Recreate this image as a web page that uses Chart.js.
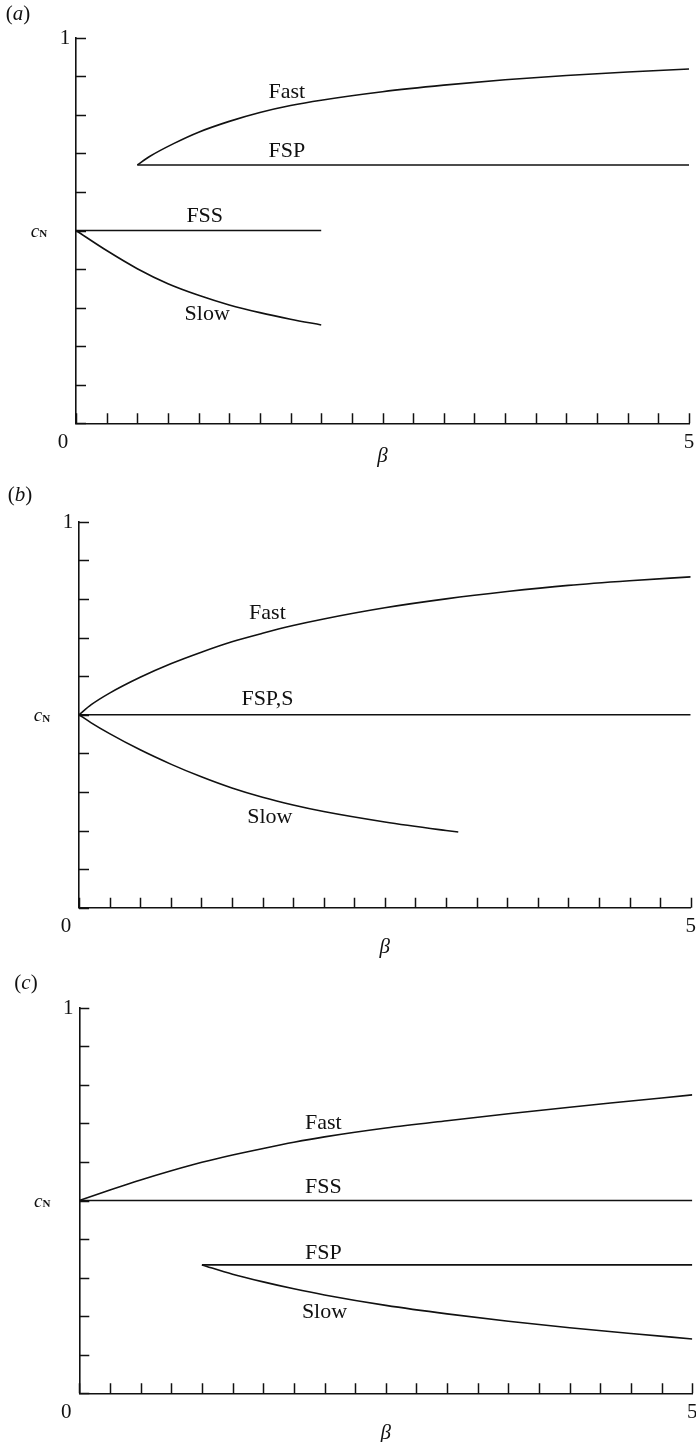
<!DOCTYPE html>
<html><head><meta charset="utf-8">
<script src="https://cdn.jsdelivr.net/npm/chart.js@4/dist/chart.umd.min.js"></script>
<style>
html,body{margin:0;padding:0;background:#fff;width:696px;height:1442px;overflow:hidden}
.p{position:absolute;left:0;width:696px}
canvas{display:block}
</style></head><body>
<div class="p" style="top:0"><canvas id="ca" width="696" height="480"></canvas></div>
<div class="p" style="top:480px"><canvas id="cb" width="696" height="480"></canvas></div>
<div class="p" style="top:960px"><canvas id="cc" width="696" height="482"></canvas></div>
<script>
// ---------- data ----------
const panelTitles = ['a', 'b', 'c'];
const xAxisTitle = 'β';
const xTickLabelValues = [5];       // labelled x ticks (0 drawn at origin)
const yTickLabelValues = [1];       // labelled y ticks
const yMarkedValue = 0.5;           // c_N level

// panel (a)
const aFastBeta = [0.5, 0.6, 0.8, 1.0, 1.25, 1.5, 1.75, 2.0, 2.5, 3.0, 3.5, 4.0, 4.5, 5.0];
const aFastC    = [0.670, 0.692, 0.726, 0.755, 0.783, 0.806, 0.824, 0.838, 0.860, 0.877, 0.891, 0.902, 0.911, 0.919];
const aFspBeta  = [0.5, 5.0];
const aFspC     = [0.670, 0.670];
const aFssBeta  = [0.0, 2.0];
const aFssC     = [0.5, 0.5];
const aSlowBeta = [0.0, 0.25, 0.5, 0.75, 1.0, 1.25, 1.5, 1.75, 2.0];
const aSlowC    = [0.5, 0.448, 0.401, 0.362, 0.332, 0.307, 0.287, 0.270, 0.255];
const aNames    = ['Fast', 'FSP', 'FSS', 'Slow'];

// panel (b)
const bFastBeta = [0.0, 0.1, 0.25, 0.5, 0.75, 1.0, 1.25, 1.5, 1.75, 2.0, 2.5, 3.0, 3.5, 4.0, 4.5, 5.0];
const bFastC    = [0.5, 0.526, 0.556, 0.597, 0.632, 0.662, 0.689, 0.711, 0.731, 0.748, 0.777, 0.800, 0.819, 0.835, 0.847, 0.857];
const bFspsBeta = [0.0, 5.0];
const bFspsC    = [0.5, 0.5];
const bSlowBeta = [0.0, 0.1, 0.25, 0.5, 0.75, 1.0, 1.25, 1.5, 1.75, 2.0, 2.5, 3.0, 3.1];
const bSlowC    = [0.5, 0.479, 0.451, 0.409, 0.372, 0.339, 0.310, 0.286, 0.266, 0.249, 0.222, 0.200, 0.196];
const bNames    = ['Fast', 'FSP,S', 'Slow'];

// panel (c)
const cFastBeta = [0.0, 0.25, 0.5, 0.75, 1.0, 1.25, 1.5, 1.75, 2.0, 2.5, 3.0, 3.5, 4.0, 4.5, 5.0];
const cFastC    = [0.5, 0.527, 0.553, 0.577, 0.599, 0.618, 0.635, 0.651, 0.665, 0.688, 0.707, 0.725, 0.742, 0.758, 0.774];
const cFssBeta  = [0.0, 5.0];
const cFssC     = [0.5, 0.5];
const cFspBeta  = [1.0, 5.0];
const cFspC     = [0.333, 0.333];
const cSlowBeta = [1.0, 1.25, 1.5, 1.75, 2.0, 2.5, 3.0, 3.5, 4.0, 4.5, 5.0];
const cSlowC    = [0.333, 0.309, 0.289, 0.271, 0.255, 0.228, 0.206, 0.187, 0.170, 0.155, 0.141];
const cNames    = ['Fast', 'FSS', 'FSP', 'Slow'];

// ---------- layout / style ----------
const SERIF = '"Liberation Serif", "DejaVu Serif", serif';
const INK = '#111';
const panels = [
  { id: 'ca', title: panelTitles[0], titlePos: [18, 14], left: 76, padTop: 37.7, padRight: 7, xH: 56.7, betaDy: 33,
    series: [[aFastBeta, aFastC], [aFspBeta, aFspC], [aFssBeta, aFssC], [aSlowBeta, aSlowC]],
    names: aNames, anchors: [[1.72, 0.859], [1.72, 0.706], [1.05, 0.538], [1.07, 0.284]] },
  { id: 'cb', title: panelTitles[1], titlePos: [20, 15], left: 79, padTop: 41.7, padRight: 5.3, xH: 52.3, betaDy: 40,
    series: [[bFastBeta, bFastC], [bFspsBeta, bFspsC], [bSlowBeta, bSlowC]],
    names: bNames, anchors: [[1.54, 0.763], [1.54, 0.541], [1.56, 0.235]] },
  { id: 'cc', title: panelTitles[2], titlePos: [26, 23], left: 79.3, padTop: 47.7, padRight: 3.7, xH: 48.7, betaDy: 40,
    series: [[cFastBeta, cFastC], [cFssBeta, cFssC], [cFspBeta, cFspC], [cSlowBeta, cSlowC]],
    names: cNames, anchors: [[1.99, 0.701], [1.99, 0.535], [1.99, 0.364], [2.0, 0.211]] }
];

function drawRuns(ctx, runs, cx, cy) {
  let w = 0;
  runs.forEach(r => { ctx.font = r.font; r.w = ctx.measureText(r.t).width; w += r.w; });
  let x = cx - w / 2;
  ctx.textAlign = 'left';
  ctx.textBaseline = 'middle';
  runs.forEach(r => { ctx.font = r.font; ctx.fillText(r.t, x, cy + (r.dy || 0)); x += r.w; });
}

const decor = {
  id: 'decor',
  afterDraw(chart, args, opts) {
    const p = opts.panel;
    const ctx = chart.ctx;
    const xs = chart.scales.x, ys = chart.scales.y;
    const a = chart.chartArea;
    ctx.save();
    ctx.strokeStyle = INK;
    ctx.fillStyle = INK;
    ctx.lineWidth = 1.5;
    // inward tick marks
    ctx.beginPath();
    xs.ticks.forEach(t => {
      const px = Math.round(xs.getPixelForValue(t.value)) + 0.5;
      ctx.moveTo(px, a.bottom); ctx.lineTo(px, a.bottom - 10);
    });
    ys.ticks.forEach(t => {
      const py = Math.round(ys.getPixelForValue(t.value)) + 0.5;
      ctx.moveTo(a.left, py); ctx.lineTo(a.left + 10, py);
    });
    ctx.stroke();
    // tick labels
    const f21 = '21px ' + SERIF;
    drawRuns(ctx, [{ t: '0', font: f21 }], a.left - 13, a.bottom + 19);
    xTickLabelValues.forEach(v => drawRuns(ctx, [{ t: String(v), font: f21 }], xs.getPixelForValue(v), a.bottom + 19));
    yTickLabelValues.forEach(v => drawRuns(ctx, [{ t: String(v), font: f21 }], a.left - 11, ys.getPixelForValue(v) + 1));
    drawRuns(ctx, [{ t: 'c', font: 'italic 19px ' + SERIF }, { t: 'N', font: 'bold 11px ' + SERIF, dy: 3 }],
      a.left - 37, ys.getPixelForValue(yMarkedValue) + 1);
    // axis title
    drawRuns(ctx, [{ t: xAxisTitle, font: 'italic 21px ' + SERIF }], xs.getPixelForValue(2.5), a.bottom + p.betaDy);
    // panel title
    drawRuns(ctx, [{ t: '(', font: '21px ' + SERIF }, { t: p.title, font: 'italic 21px ' + SERIF }, { t: ')', font: '21px ' + SERIF }],
      p.titlePos[0], p.titlePos[1]);
    // curve labels
    p.names.forEach((n, i) => {
      const an = p.anchors[i];
      drawRuns(ctx, [{ t: n, font: '22px ' + SERIF }], xs.getPixelForValue(an[0]), ys.getPixelForValue(an[1]));
    });
    ctx.restore();
  }
};

panels.forEach(p => {
  const datasets = p.series.map((s, i) => ({
    label: p.names[i],
    data: s[0].map((b, k) => ({ x: b, y: s[1][k] })),
    showLine: true,
    borderColor: INK,
    borderWidth: 1.6,
    pointRadius: 0,
    cubicInterpolationMode: 'monotone',
    fill: false
  }));
  new Chart(document.getElementById(p.id), {
    type: 'scatter',
    data: { datasets },
    options: {
      responsive: false,
      animation: false,
      events: [],
      layout: { padding: { top: p.padTop, right: p.padRight, left: 0, bottom: 0 } },
      plugins: { legend: { display: false }, tooltip: { enabled: false }, decor: { panel: p } },
      scales: {
        x: { type: 'linear', min: 0, max: 5, ticks: { display: false, stepSize: 0.25 },
             grid: { display: false }, border: { display: true, color: INK, width: 1.6 },
             afterFit: s => { s.height = p.xH; } },
        y: { type: 'linear', min: 0, max: 1, ticks: { display: false, stepSize: 0.1 },
             grid: { display: false }, border: { display: true, color: INK, width: 1.6 },
             afterFit: s => { s.width = p.left; } }
      }
    },
    plugins: [decor]
  });
});
</script>
</body></html>
